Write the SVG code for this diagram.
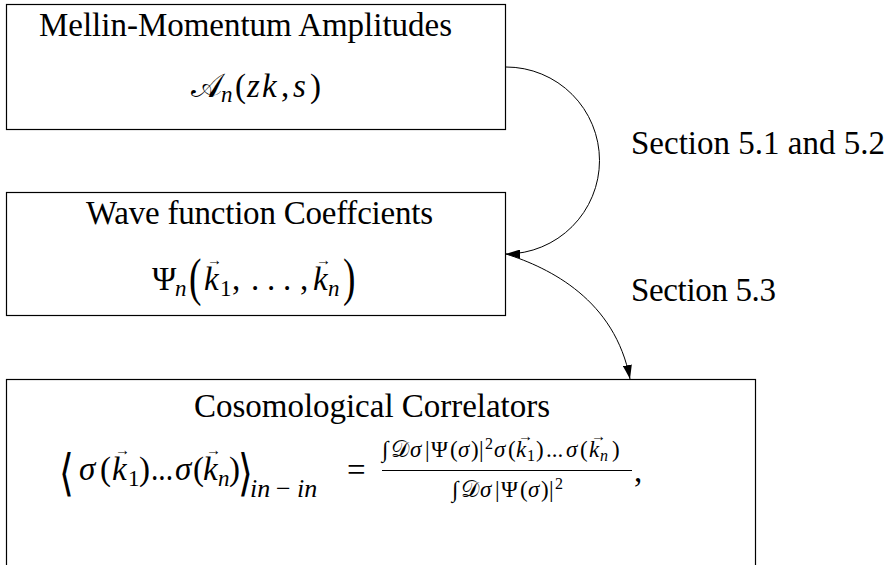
<svg xmlns="http://www.w3.org/2000/svg" width="889" height="565" viewBox="0 0 889 565">
<style>
text { font-family: "Liberation Serif", "DejaVu Serif", serif; fill: #000; }
.t { font-size: 33px; }
.m { font-size: 33px; }
.i { font-style: italic; }
.s { font-size: 23px; }
.ss { font-size: 16px; }
.vec { font-size: 15px; }
.cal { font-family: "DejaVu Serif", "DejaVu Sans", "Noto Sans", serif; font-style: normal; }
.box { fill: #fff; stroke: #000; stroke-width: 1.2; }
.edge { fill: none; stroke: #000; stroke-width: 1; }
</style>
<defs>
<marker id="ah" markerWidth="14" markerHeight="9" refX="14" refY="4.5" orient="auto" markerUnits="userSpaceOnUse">
<path d="M0,0 L14,4.5 L0,9 z" fill="#000"/>
</marker>
</defs>
<rect x="0" y="0" width="889" height="565" fill="#fff"/>

<g id="mellin">
<rect class="box" x="6.5" y="4.5" width="499" height="125"/>
<text class="t" x="39" y="36" textLength="413" lengthAdjust="spacing">Mellin-Momentum Amplitudes</text>
<text class="m" y="97">
<tspan class="cal" x="191">𝒜</tspan><tspan class="s i" x="221" y="102">n</tspan><tspan x="235" y="97">(</tspan><tspan class="i" x="247">z</tspan><tspan class="i" x="262">k</tspan><tspan x="281">,</tspan><tspan class="i" x="293">s</tspan><tspan x="310">)</tspan>
</text>
</g>

<g id="wave">
<rect class="box" x="6.5" y="192.5" width="499" height="123"/>
<text class="t" x="86" y="224" textLength="347" lengthAdjust="spacing">Wave function Coeffcients</text>
<text class="m" y="290">
<tspan x="152">Ψ</tspan><tspan class="s i" x="175" y="296">n</tspan><tspan class="i" x="204" y="290">k</tspan><tspan class="s" x="220" y="296">1</tspan><tspan x="232" y="290">,</tspan><tspan x="251">.</tspan><tspan x="267">.</tspan><tspan x="283">.</tspan><tspan x="300">,</tspan><tspan class="i" x="313">k</tspan><tspan class="s i" x="328" y="296">n</tspan>
</text>
<text class="vec" x="207" y="265">→</text>
<text class="vec" x="316" y="265">→</text>
<text transform="translate(189,295) scale(0.72,1)" font-size="52">(</text>
<text transform="translate(343,295) scale(0.72,1)" font-size="52">)</text>
</g>

<g id="correlators">
<rect class="box" x="6.5" y="379.5" width="749" height="200"/>
<text class="t" x="194" y="417" textLength="356" lengthAdjust="spacing">Cosomological Correlators</text>
<text transform="translate(59,490) scale(0.95,1.25)" font-size="40" font-family="DejaVu Sans">⟨</text>
<text class="m" y="480">
<tspan class="i" x="79">σ</tspan><tspan x="100">(</tspan><tspan class="i" x="112">k</tspan><tspan class="s" x="128" y="486">1</tspan><tspan x="139" y="480">)</tspan><tspan x="151" textLength="22" lengthAdjust="spacingAndGlyphs">...</tspan><tspan class="i" x="175">σ</tspan><tspan x="193">(</tspan><tspan class="i" x="203">k</tspan><tspan class="s i" x="218" y="486">n</tspan><tspan x="229" y="480">)</tspan>
</text>
<text class="vec" x="115" y="455">→</text>
<text class="vec" x="206" y="455">→</text>
<text transform="translate(238,490) scale(0.95,1.25)" font-size="40" font-family="DejaVu Sans">⟩</text>
<text class="i" font-size="26" y="497"><tspan x="250">in</tspan><tspan x="276" font-style="normal">−</tspan><tspan x="297">in</tspan></text>
<text class="m" x="347" y="481">=</text>
<line x1="382" y1="470.5" x2="632" y2="470.5" stroke="#000" stroke-width="1.2"/>
<text class="s" y="457">
<tspan x="382">∫</tspan><tspan class="cal" x="391">𝒟</tspan><tspan class="i" x="410">σ</tspan><tspan x="425">|</tspan><tspan x="431">Ψ</tspan><tspan x="450">(</tspan><tspan class="i" x="458">σ</tspan><tspan x="471">)</tspan><tspan x="479">|</tspan><tspan class="ss" x="485" y="449">2</tspan><tspan class="i" x="494" y="457">σ</tspan><tspan x="508">(</tspan><tspan class="i" x="516">k</tspan><tspan class="ss" x="527" y="461">1</tspan><tspan x="536" y="457">)</tspan><tspan x="546">...</tspan><tspan class="i" x="566">σ</tspan><tspan x="580">(</tspan><tspan class="i" x="589">k</tspan><tspan class="ss i" x="600" y="461">n</tspan><tspan x="612" y="457">)</tspan>
</text>
<text class="vec" font-size="12" x="518" y="441">→</text>
<text class="vec" font-size="12" x="591" y="441">→</text>
<text class="s" y="497">
<tspan x="452">∫</tspan><tspan class="cal" x="461">𝒟</tspan><tspan class="i" x="480">σ</tspan><tspan x="495">|</tspan><tspan x="501">Ψ</tspan><tspan x="520">(</tspan><tspan class="i" x="528">σ</tspan><tspan x="541">)</tspan><tspan x="549">|</tspan><tspan class="ss" x="555" y="489">2</tspan>
</text>
<text class="m" x="634" y="482">,</text>
</g>

<g id="connectors">
<path id="e1" class="edge" d="M506,67 A93.5,93.5 0 0 1 506,254" marker-end="url(#ah)"/>
<path id="e2" class="edge" d="M506,254 C550,268 615,300 630,379" marker-end="url(#ah)"/>
<text class="t" x="631" y="154" textLength="254" lengthAdjust="spacing">Section 5.1 and 5.2</text>
<text class="t" x="631" y="301" textLength="145" lengthAdjust="spacing">Section 5.3</text>
</g>
</svg>
